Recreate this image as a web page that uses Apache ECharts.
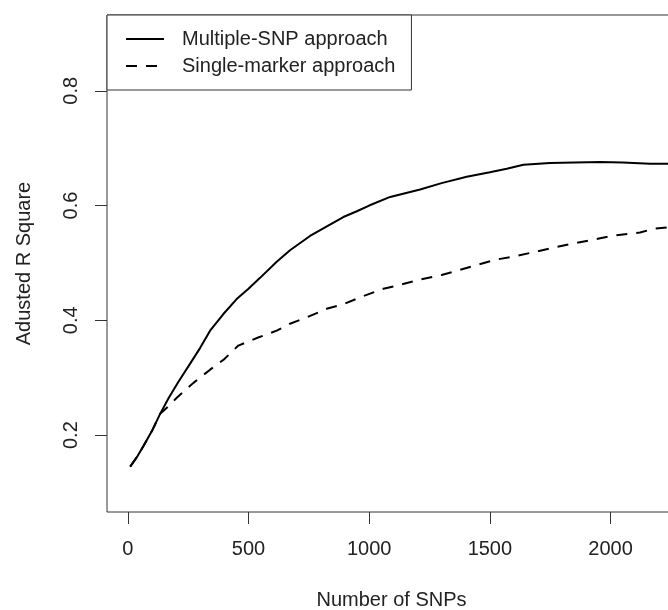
<!DOCTYPE html>
<html>
<head>
<meta charset="utf-8">
<script src="https://cdn.jsdelivr.net/npm/echarts@6/dist/echarts.min.js"></script>
<style>
html, body { margin: 0; padding: 0; background: #fff; }
#chart { width: 668px; height: 610px; }
</style>
</head>
<body>
<div id="chart"></div>
<script>
var multiX = [10, 40, 65, 100, 134, 170, 210, 259, 300, 341, 396, 451, 500, 548, 617, 672, 755, 810, 893, 949, 1000, 1087, 1211, 1300, 1404, 1500, 1570, 1639, 1749, 1850, 1957, 2050, 2164, 2240];
var multiY = [0.145, 0.163, 0.181, 0.207, 0.237, 0.265, 0.293, 0.325, 0.352, 0.382, 0.411, 0.437, 0.455, 0.474, 0.502, 0.522, 0.547, 0.560, 0.580, 0.590, 0.600, 0.615, 0.628, 0.639, 0.650, 0.658, 0.664, 0.671, 0.674, 0.675, 0.676, 0.675, 0.673, 0.673];

var singleX = [10, 40, 65, 100, 134, 168, 203, 272, 341, 396, 458, 540, 617, 672, 741, 824, 893, 962, 1059, 1130, 1211, 1300, 1377, 1450, 1529, 1610, 1694, 1780, 1860, 1957, 2019, 2122, 2183, 2240];
var singleY = [0.145, 0.163, 0.181, 0.207, 0.237, 0.250, 0.265, 0.291, 0.314, 0.331, 0.356, 0.370, 0.382, 0.394, 0.405, 0.420, 0.428, 0.440, 0.455, 0.462, 0.471, 0.479, 0.488, 0.497, 0.506, 0.512, 0.520, 0.528, 0.535, 0.543, 0.548, 0.553, 0.560, 0.562];

var xTicks = [0, 500, 1000, 1500, 2000];
var yTicks = [0.2, 0.4, 0.6, 0.8];

function pairs(xs, ys) {
    return xs.map(function(x, i){ return [x, ys[i]]; });
}

var chart = echarts.init(document.getElementById("chart"));

var font = "Liberation Sans, Arial, sans-serif";
var txt = '#222';
var ink = '#333';

var option = {
    animation: false,
    backgroundColor: '#fff',
    grid: {
        left: 107,
        right: -8,
        top: 15,
        bottom: 98,
        show: true,
        borderColor: ink,
        borderWidth: 1,
        outerBoundsMode: 'none'
    },
    legend: {
        orient: 'vertical',
        left: 107,
        top: 15,
        padding: [14, 16, 14, 18],
        itemGap: 7,
        itemWidth: 38,
        itemHeight: 20,
        borderColor: ink,
        borderWidth: 1,
        backgroundColor: '#fff',
        itemStyle: { opacity: 0 },
        textStyle: { fontFamily: font, fontSize: 20, color: txt, padding: [0, 0, 0, 13] },
        data: ['Multiple-SNP approach', 'Single-marker approach']
    },
    xAxis: {
        type: 'value',
        min: -86,
        max: 2271,
        splitLine: { show: false },
        axisLine: { show: false, onZero: false },
        axisTick: { show: true, length: 12, customValues: xTicks, lineStyle: { color: ink } },
        axisLabel: { customValues: xTicks, margin: 27, fontFamily: font, fontSize: 20, color: txt,
            formatter: function(v){ return String(v); } },
        name: 'Number of SNPs',
        nameLocation: 'middle',
        nameGap: 78,
        nameTextStyle: { fontFamily: font, fontSize: 20, color: txt }
    },
    yAxis: {
        type: 'value',
        min: 0.066,
        max: 0.932,
        splitLine: { show: false },
        axisLine: { show: false, onZero: false },
        axisTick: { show: true, length: 12, customValues: yTicks, lineStyle: { color: ink } },
        axisLabel: { customValues: yTicks, rotate: 90, margin: 26, fontFamily: font, fontSize: 20, color: txt,
            formatter: function(v){ return v.toFixed(1); } },
        name: 'Adusted R Square',
        nameLocation: 'middle',
        nameGap: 73,
        nameRotate: 90,
        nameTextStyle: { fontFamily: font, fontSize: 20, color: txt }
    },
    series: [
        {
            name: 'Multiple-SNP approach',
            type: 'line',
            data: pairs(multiX, multiY),
            symbol: 'none',
            lineStyle: { color: '#000', width: 2, type: 'solid' },
            itemStyle: { color: '#000' },
            z: 3
        },
        {
            name: 'Single-marker approach',
            type: 'line',
            data: pairs(singleX, singleY),
            symbol: 'none',
            lineStyle: { color: '#000', width: 2, type: [11, 9] },
            itemStyle: { color: '#000' },
            z: 2
        }
    ]
};

chart.setOption(option);
</script>
</body>
</html>
